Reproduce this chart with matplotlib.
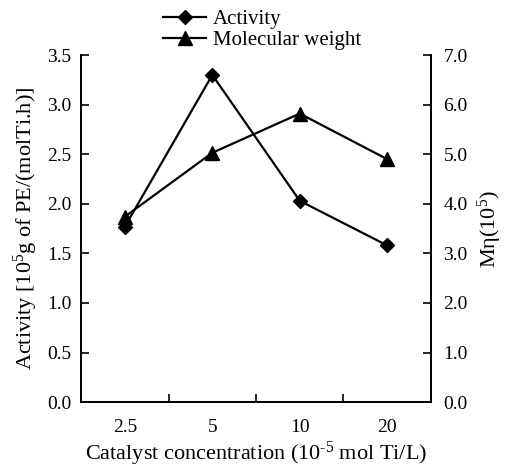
import numpy as np
import matplotlib
matplotlib.use("Agg")
import matplotlib.pyplot as plt

plt.rcParams['font.family'] = ['Liberation Serif', 'DejaVu Serif']
plt.rcParams['mathtext.fontset'] = 'custom'
plt.rcParams['mathtext.rm'] = 'Liberation Serif'
plt.rcParams['mathtext.it'] = 'Liberation Serif:italic'

conc = ["2.5", "5", "10", "20"]
activity = [1.77, 3.30, 2.03, 1.58]
mol_weight = [3.74, 5.03, 5.82, 4.90]

x = np.arange(len(conc))

fig = plt.figure(figsize=(5.07, 4.67), dpi=100)
ax = fig.add_axes([0.160, 0.139, 0.690, 0.743])
ax2 = ax.twinx()

l1, = ax.plot(x, activity, color='black', lw=1.6, marker='D', ms=7.5, label='Activity')
l2, = ax2.plot(x, mol_weight, color='black', lw=1.6, marker='^', ms=9.5, label='Molecular weight')

ax.set_xlim(-0.5, 3.5)
ax.set_ylim(0, 3.5)
ax2.set_ylim(0, 7.0)
ax.set_yticks(np.arange(0, 3.51, 0.5))
ax.set_yticklabels([f"{v:.1f}" for v in np.arange(0, 3.51, 0.5)])
ax2.set_yticks(np.arange(0, 7.01, 1.0))
ax2.set_yticklabels([f"{v:.1f}" for v in np.arange(0, 7.01, 1.0)])

ax.set_xticks(x)
ax.set_xticklabels(conc)
ax.set_xticks([0.5, 1.5, 2.5], minor=True)
ax.tick_params(axis='x', which='major', length=0, pad=12, labelsize=14)
ax.tick_params(axis='x', which='minor', direction='in', length=6, width=1.2)
ax.tick_params(axis='y', direction='in', length=6, width=1.2, labelsize=14, pad=7)
ax2.tick_params(axis='y', direction='in', length=6, width=1.2, labelsize=14, pad=9)

for a in (ax, ax2):
    a.spines['top'].set_visible(False)
    for s in ('left', 'right', 'bottom'):
        a.spines[s].set_linewidth(1.3)

ax.set_xlabel("Catalyst concentration (10$^{\\text{-}5}$ mol Ti/L)", fontsize=16, labelpad=3)
ax.set_ylabel("Activity [10$^5$g of PE/(molTi.h)]", fontsize=16, labelpad=5)
ax2.set_ylabel("M\u03b7(10$^5$)", fontsize=16, labelpad=6)

fig.legend(handles=[l1, l2], loc='upper left', bbox_to_anchor=(0.292, 1.01),
           frameon=False, fontsize=15, handlelength=2.1, handletextpad=0.3,
           labelspacing=0.05, borderpad=0.2)

fig.savefig("out.png", dpi=100)
